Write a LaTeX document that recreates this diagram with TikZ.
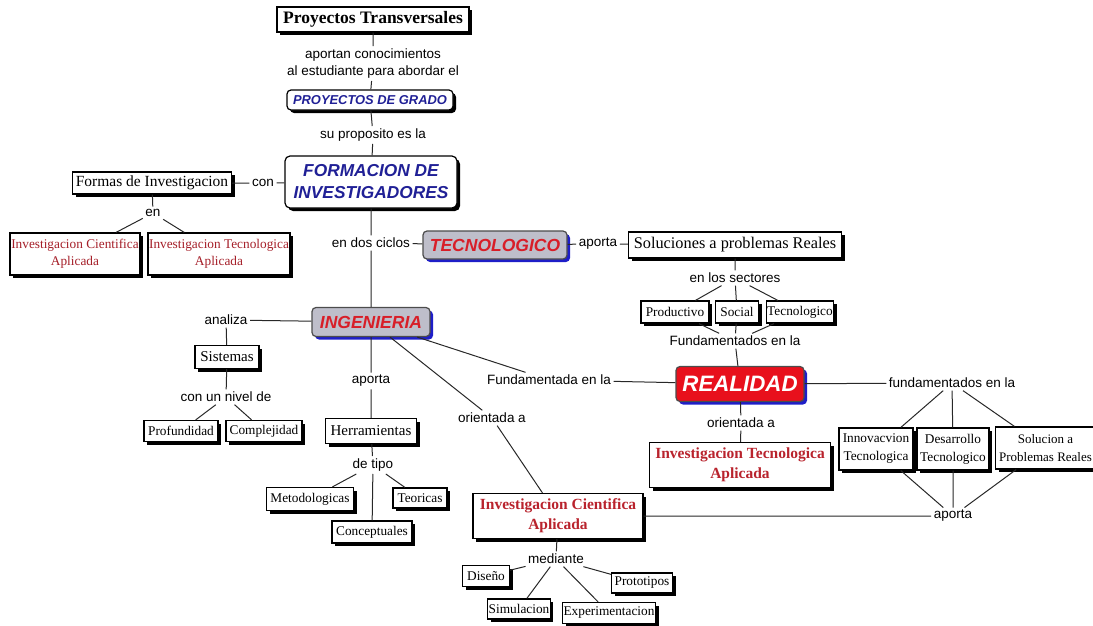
\documentclass[tikz,border=0pt]{standalone}
\usepackage{fontspec}
\setmainfont{Liberation Serif}
\newfontfamily\sansf{Liberation Sans}
\usetikzlibrary{shadows}
\definecolor{redtxt}{RGB}{185,35,45}
\definecolor{dredtxt}{RGB}{165,30,40}
\definecolor{bluetxt}{RGB}{32,32,150}
\definecolor{brred}{RGB}{216,30,40}
\definecolor{grayfill}{RGB}{190,190,202}
\definecolor{shblue}{RGB}{30,30,200}
\definecolor{realred}{RGB}{232,16,28}
\definecolor{linec}{RGB}{40,40,40}
\begin{document}
\begin{tikzpicture}[x=1pt,y=-1pt,
  lbl/.style={font=\sansf\fontsize{13.5}{17}\selectfont, inner sep=2.5pt, align=center},
  sz/.style 2 args={minimum width=#1pt, minimum height=#2pt},
  blackshadow/.style={drop shadow={shadow xshift=3pt,shadow yshift=-3pt,fill=black,opacity=1}},
  blueshadow/.style={drop shadow={shadow xshift=3pt,shadow yshift=-3pt,fill=shblue,opacity=1}},
  sbox/.style={draw=black, line width=1.2pt, fill=white, inner sep=1pt, align=center,
    font=\fontsize{13.3}{17}\selectfont, blackshadow},
  redbox/.style={sbox, text=dredtxt},
  boldred/.style={sbox, text=redtxt, font=\bfseries\fontsize{15.5}{20}\selectfont},
  bluebox/.style={draw=black, line width=1.2pt, fill=white, rounded corners=4pt, inner sep=1pt,
    align=center, text=bluetxt, blackshadow},
  graybox/.style={draw=black!70, line width=1.2pt, fill=grayfill, rounded corners=4pt, inner sep=1pt,
    text=brred, font=\sansf\bfseries\itshape\fontsize{17.5}{20}\selectfont, blueshadow},
  conn/.style={draw=linec, line width=1pt}
]
\useasboundingbox (0,0) rectangle (1093,626);

% concepts
\node[sbox, sz={192}{25}, font=\bfseries\fontsize{17.5}{20}\selectfont] (pt) at (373,19.5) {Proyectos Transversales};
\node[bluebox, sz={166}{20}, font=\sansf\bfseries\itshape\fontsize{12.9}{15}\selectfont] (pg) at (370,100) {PROYECTOS DE GRADO};
\node[bluebox, sz={172}{52}, rounded corners=5pt, font=\sansf\bfseries\itshape\fontsize{17.3}{22}\selectfont] (fi) at (371,182) {FORMACION DE\\INVESTIGADORES};
\node[sbox, sz={159}{22}, font=\fontsize{15.5}{18}\selectfont] (fo) at (152,183) {Formas de Investigacion};
\node[redbox, sz={130}{42}] (ic1) at (75,254) {Investigacion Cientifica\\Aplicada};
\node[redbox, sz={142}{42}] (it1) at (219,254) {Investigacion Tecnologica\\Aplicada};
\node[graybox, sz={144}{28}] (tec) at (495,245) {TECNOLOGICO};
\node[sbox, sz={213}{26}, font=\fontsize{16.3}{19}\selectfont] (sol) at (735,245) {Soluciones a problemas Reales};
\node[sbox, sz={68}{22}] (prod) at (675,312) {Productivo};
\node[sbox, sz={43}{22}] (soc) at (737,312) {Social};
\node[sbox, sz={67}{22}] (tecn) at (800,312) {Tecnologico};
\node[graybox, sz={128}{35}, fill=realred, text=white, font=\sansf\bfseries\itshape\fontsize{22.3}{26}\selectfont] (rea) at (740,384) {REALIDAD};
\node[boldred, sz={181}{45}] (it2) at (740,465) {Investigacion Tecnologica\\Aplicada};
\node[sbox, sz={74}{42}, font=\fontsize{13.3}{18}\selectfont] (inn) at (876,449) {Innovacvion\\Tecnologica};
\node[sbox, sz={72}{42}, font=\fontsize{13.3}{18}\selectfont] (des) at (953,449) {Desarrollo\\Tecnologico};
\node[sbox, sz={100}{42}, font=\fontsize{13}{18}\selectfont] (solp) at (1045.5,448) {Solucion a\\Problemas Reales};
\node[graybox, sz={118}{29}] (ing) at (371,322) {INGENIERIA};
\node[sbox, sz={64}{23}, font=\fontsize{15}{18}\selectfont] (sis) at (227,357) {Sistemas};
\node[sbox, sz={74}{21}] (pro) at (181,431) {Profundidad};
\node[sbox, sz={76}{21}] (com) at (264,431) {Complejidad};
\node[sbox, sz={91}{25}, font=\fontsize{15}{18}\selectfont] (her) at (371,431) {Herramientas};
\node[sbox, sz={87}{23}] (met) at (310,499) {Metodologicas};
\node[sbox, sz={54}{20}] (teo) at (420,498) {Teoricas};
\node[sbox, sz={80}{22}] (cnc) at (372,532) {Conceptuales};
\node[boldred, sz={170}{45}] (ic2) at (558,516) {Investigacion Cientifica\\Aplicada};
\node[sbox, sz={47}{21}] (dis) at (486,576) {Diseño};
\node[sbox, sz={61}{20}] (prt) at (642,583) {Prototipos};
\node[sbox, sz={62}{20}] (sim) at (519,609) {Simulacion};
\node[sbox, sz={93}{21}] (exp) at (609,613) {Experimentacion};

% linking phrases
\node[lbl] (l1) at (373,63.5) {aportan conocimientos\\al estudiante para abordar el};
\node[lbl] (l2) at (373,135) {su proposito es la};
\node[lbl] (l3) at (263,183) {con};
\node[lbl] (l4) at (153,213) {en};
\node[lbl] (l5) at (371,243) {en dos ciclos};
\node[lbl] (l6) at (598,244) {aporta};
\node[lbl] (l7) at (735,278) {en los sectores};
\node[lbl] (l8) at (735,341) {Fundamentados en la};
\node[lbl] (l9) at (549,380) {Fundamentada en la};
\node[lbl] (l10) at (741,423) {orientada a};
\node[lbl] (l11) at (952,383) {fundamentados en la};
\node[lbl] (l12) at (953,516) {aporta};
\node[lbl] (l13) at (226,320) {analiza};
\node[lbl] (l14) at (226,397) {con un nivel de};
\node[lbl] (l15) at (371,381) {aporta};
\node[lbl] (l16) at (373,465) {de tipo};
\node[lbl] (l17) at (492,418) {orientada a};
\node[lbl] (l18) at (556,559) {mediante};

% connectors
\path[conn] (pt) -- (l1) (l1) -- (pg) (pg) -- (l2) (l2) -- (fi)
  (fo) -- (l3) (l3) -- (fi) (fo) -- (l4) (l4) -- (ic1) (l4) -- (it1)
  (fi) -- (l5) (l5) -- (ing) (l5) -- (tec) (tec) -- (l6) (l6) -- (sol)
  (sol) -- (l7) (l7) -- (prod) (l7) -- (soc) (l7) -- (tecn)
  (prod) -- (l8) (soc) -- (l8) (tecn) -- (l8) (l8) -- (rea)
  (ing) -- (l9) (l9) -- (rea) (rea) -- (l10) (l10) -- (it2)
  (rea) -- (l11) (l11) -- (inn) (l11) -- (des) (l11) -- (solp)
  (inn) -- (l12) (des) -- (l12) (solp) -- (l12) (ic2) -- (l12)
  (ing) -- (l13) (l13) -- (sis) (sis) -- (l14) (l14) -- (pro) (l14) -- (com)
  (ing) -- (l15) (l15) -- (her) (her) -- (l16) (l16) -- (met) (l16) -- (teo) (l16) -- (cnc)
  (ing) -- (l17) (l17) -- (ic2) (ic2) -- (l18)
  (l18) -- (dis) (l18) -- (prt) (l18) -- (sim) (l18) -- (exp);
\end{tikzpicture}
\end{document}
